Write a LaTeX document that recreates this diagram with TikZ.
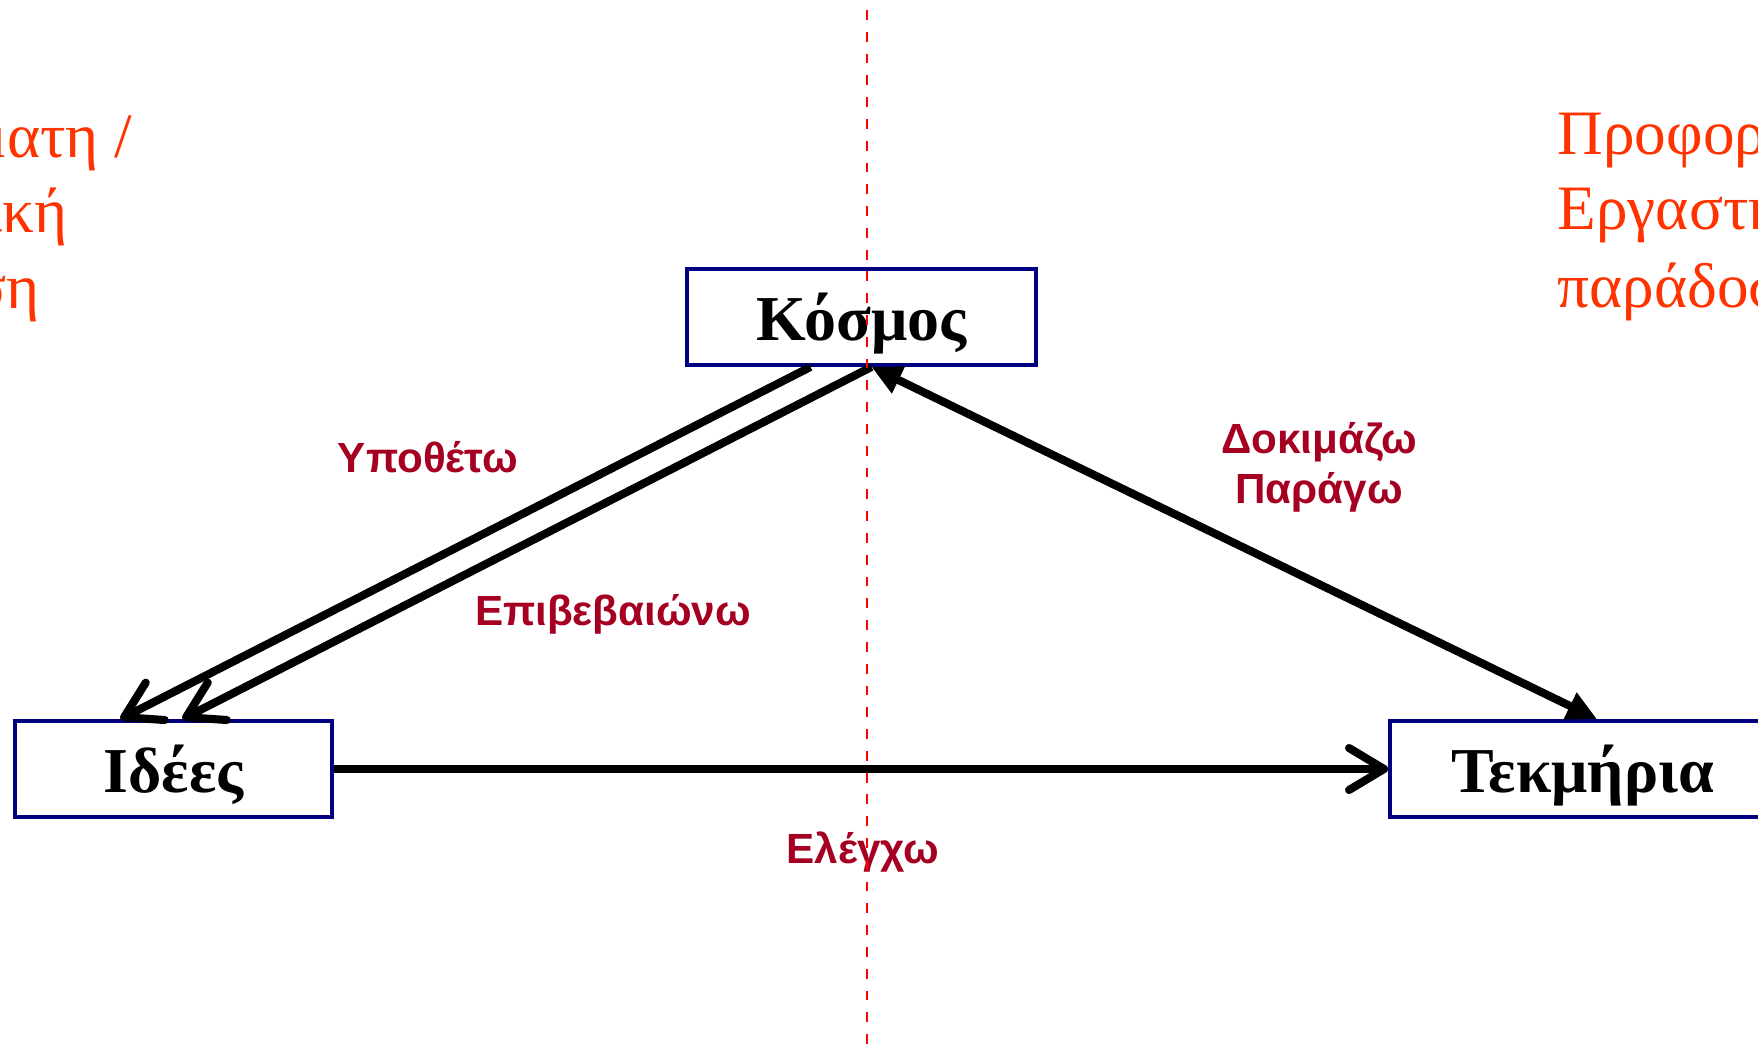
\documentclass[tikz,border=0pt]{standalone}
\usepackage{fontspec}
\setmainfont{Liberation Serif}
\newfontfamily\verbfont{Liberation Sans}
\usepackage{tikz}
\usetikzlibrary{arrows.meta}
\definecolor{boxblue}{HTML}{000080}
\definecolor{verbred}{HTML}{A50021}
\definecolor{noteorange}{HTML}{FF3300}
\tikzstyle{box} = [draw=boxblue, line width=1.1pt, fill=white, minimum height=0.96cm, inner sep=0pt, text height=0.5cm, text depth=0.04cm, font=\fontsize{18.2}{22}\selectfont\bfseries]
\tikzstyle{arrow} = [draw, line width=2.3pt, -{Straight Barb[length=3.5mm, width=4.2mm, round]}]
\tikzstyle{twoway} = [draw, line width=2.3pt, {Triangle[length=3mm, width=2.8mm]}-{Triangle[length=3mm, width=2.8mm]}]
\tikzstyle{verb} = [verbred, font=\verbfont\fontsize{12}{14.2}\selectfont\bfseries, anchor=base, align=center]
\tikzstyle{note} = [noteorange, font=\fontsize{18}{21.6}\selectfont, inner sep=0pt]
\tikzstyle{divider} = [draw=red, line width=0.6pt, dash pattern=on 2.8pt off 3.4pt]

\begin{document}
\begin{tikzpicture}
\useasboundingbox (0,0) rectangle (17.58,10.44);
\clip (0,0) rectangle (17.58,10.44);

% side notes, cut by the page edge
\node[note, anchor=base east] at (1.33, 8.87) {ματη /};
\node[note, anchor=base east] at (0.68, 8.12) {ική};
\node[note, anchor=base east] at (0.40, 7.36) {ση};
\node[note, anchor=base west] at (15.57, 8.90) {Προφορ};
\node[note, anchor=base west] at (15.57, 8.15) {Εργαστη};
\node[note, anchor=base west] at (15.57, 7.37) {παράδοσ};

% the three boxes
\node[box, minimum width=3.49cm] (kosmos) at (8.615, 7.27) {Κόσμος};
\node[box, minimum width=3.17cm] (idees) at (1.735, 2.75) {Ιδέες};
\node[box, minimum width=3.86cm] (tekmiria) at (15.83, 2.75) {Τεκμήρια};

% connectors
\path[arrow] ([xshift=-0.51cm]kosmos.south) -- ([xshift=-0.53cm]idees.north);
\path[arrow] ([xshift=0.1cm]kosmos.south) -- ([xshift=0.09cm]idees.north);
\path[twoway] ([xshift=0.1cm]kosmos.south) -- ([xshift=0.14cm]tekmiria.north);
\path[arrow] (idees) -- (tekmiria);

% verbs
\node[verb] (ypotheto) at (4.28, 5.72) {Υποθέτω};
\node[verb] (epivevaiono) at (6.13, 4.19) {Επιβεβαιώνω};
\node[verb, anchor=center] (dokimazo) at (13.19, 5.77) {Δοκιμάζω\\Παράγω};
\node[verb] (elegcho) at (8.63, 1.81) {Ελέγχω};

\draw[divider] (8.67, 0) -- (8.67, 10.44);
\end{tikzpicture}
\end{document}
